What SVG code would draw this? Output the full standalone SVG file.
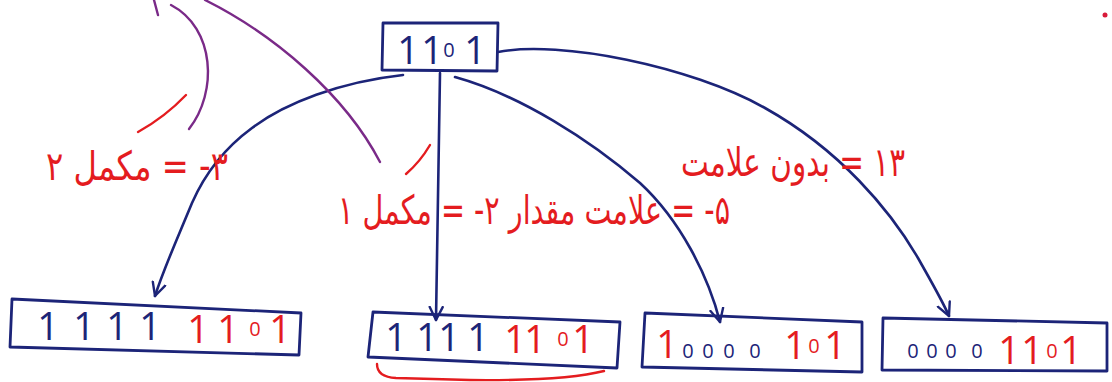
<svg xmlns="http://www.w3.org/2000/svg" width="1112" height="382" viewBox="0 0 1112 382">
<style>
.ln{fill:none;stroke:#1c2478;stroke-width:2.6;stroke-linecap:round;stroke-linejoin:round}
.box{fill:none;stroke:#1c2478;stroke-width:2.8;stroke-linejoin:round}
.pp{fill:none;stroke:#7a2a88;stroke-width:2.4;stroke-linecap:round}
.rs{fill:none;stroke:#e41c1f;stroke-width:2.4;stroke-linecap:round}
.lbl{font-family:"DejaVu Sans",sans-serif;font-size:40px;fill:#e41c1f}
.bit{font-family:"Open Sans","DejaVu Sans",sans-serif;font-size:38px;text-anchor:middle}
.z{font-size:20px}
.b{fill:#1c2478}
.r{fill:#e41c1f}
</style>
<defs>
<marker id="ah" viewBox="0 0 16 16" refX="14" refY="8" markerWidth="16" markerHeight="16" markerUnits="userSpaceOnUse" orient="auto">
<path d="M1,1.5 L14,8 L1,14.5" fill="none" stroke="#1c2478" stroke-width="2.4" stroke-linecap="round" stroke-linejoin="round"/>
</marker>
</defs>
<rect width="1112" height="382" fill="#ffffff"/>

<g id="connectors">
<path class="ln" marker-end="url(#ah)" d="M403,75 C340,82 285,103 252,128 C222,150 203,178 192,203 C178,237 164,268 155,296"/>
<path class="ln" marker-end="url(#ah)" d="M440,73 L436,320"/>
<path class="ln" marker-end="url(#ah)" d="M455,77 C520,95 590,140 640,183 C680,220 708,275 720,322"/>
<path class="ln" marker-end="url(#ah)" d="M498,52 C560,40 690,66 765,108 C840,150 890,210 918,258 C932,283 942,300 949,316"/>
</g>

<g id="annotations">
<path class="pp" d="M154,0 L158,15"/>
<path class="pp" d="M171,5 C215,28 218,92 189,129"/>
<path class="pp" d="M205,0 C275,35 345,95 380,162"/>
<path class="rs" d="M138,132 Q165,117 186,95"/>
<path class="rs" d="M430,145 Q420,162 406,174"/>
<path class="rs" d="M377,364 Q377,377 396,378 L470,380 Q565,381 604,371"/>
<circle cx="1105" cy="15" r="2.5" fill="#d81a3a"/>
</g>

<g id="label-twos">
<text class="lbl" x="137" y="180" direction="rtl" text-anchor="middle" textLength="182" lengthAdjust="spacingAndGlyphs">۳- = مکمل ۲</text>
</g>
<g id="label-ones-sign">
<text class="lbl" x="534" y="224" direction="rtl" text-anchor="middle" textLength="392" lengthAdjust="spacingAndGlyphs">۵- = علامت مقدار ۲- = مکمل ۱</text>
</g>
<g id="label-unsigned">
<text class="lbl" x="793" y="176" direction="rtl" text-anchor="middle" textLength="224" lengthAdjust="spacingAndGlyphs">۱۳ = بدون علامت</text>
</g>

<g id="top">
<polygon class="box" points="383,23 498,23 497,71 382,70"/>
<text class="bit b" y="64"><tspan x="408 432">11</tspan><tspan class="z" x="449" dy="-7">0</tspan><tspan x="475" dy="7">1</tspan></text>
</g>

<g id="twos">
<polygon class="box" points="12,299 301,313 299,355 10,347"/>
<text class="bit b" x="48 84 117 150" y="340">1111</text>
<text class="bit r" y="343"><tspan x="198 228">11</tspan><tspan class="z" x="255" dy="-7">0</tspan><tspan x="280" dy="7">1</tspan></text>
</g>

<g id="ones">
<polygon class="box" points="373,312 620,322 617,368 368,357"/>
<text class="bit b" x="396 427 449 478" y="351">1111</text>
<text class="bit r" y="353"><tspan x="515 535">11</tspan><tspan class="z" x="563" dy="-7">0</tspan><tspan x="583" dy="7">1</tspan></text>
</g>

<g id="sign">
<polygon class="box" points="645,313 862,322 862,372 642,367"/>
<text class="bit r" x="667" y="358">1</text>
<text class="bit b z" x="688 708 729 755" y="358">0000</text>
<text class="bit r" y="359"><tspan x="795">1</tspan><tspan class="z" x="814" dy="-6">0</tspan><tspan x="835" dy="6">1</tspan></text>
</g>

<g id="unsigned">
<polygon class="box" points="883,318 1107,323 1107,371 882,370"/>
<text class="bit b z" x="913 932 951 977" y="358">0000</text>
<text class="bit r" y="364"><tspan x="1009 1032">11</tspan><tspan class="z" x="1052" dy="-6">0</tspan><tspan x="1071" dy="6">1</tspan></text>
</g>
</svg>
